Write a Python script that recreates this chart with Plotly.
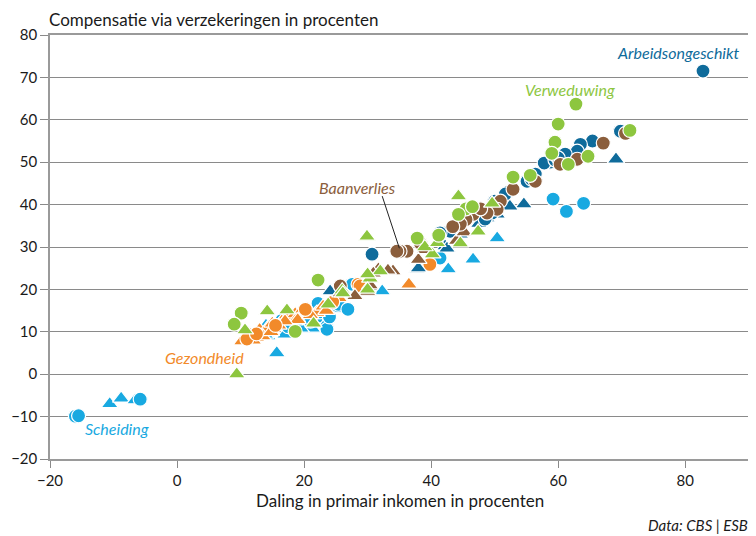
import plotly.graph_objects as go

# ---------------- data ----------------
arb_circ_x = [82.8, 69.8, 65.4, 63.5, 63.0, 61.1, 58.7, 57.8, 56.4, 55.1, 52.2, 51.7, 50.0, 49.6, 48.5, 43.0, 41.4, 30.7, 55.8, 59.5, 60.0]
arb_circ_y = [71.5, 57.3, 55.0, 54.2, 52.6, 51.9, 50.0, 49.8, 47.2, 45.5, 43.0, 42.5, 40.8, 38.0, 36.6, 33.7, 33.3, 28.3, 46.0, 50.5, 51.0]
arb_tri_x = [69.1, 54.6, 52.4, 50.4, 48.8, 44.6, 42.2, 37.8, 44.1, 42.5, 24.1, 38.0, 47.5]
arb_tri_y = [50.7, 40.1, 39.6, 37.7, 36.8, 33.0, 30.2, 24.8, 34.4, 29.7, 19.6, 25.0, 35.5]

ver_circ_x = [62.8, 60.0, 59.5, 59.0, 61.6, 64.7, 71.3, 55.6, 52.9, 45.5, 44.3, 41.2, 37.8, 22.2, 10.1, 9.0, 18.6, 46.5]
ver_circ_y = [63.7, 59.0, 54.7, 52.1, 49.5, 51.4, 57.5, 46.9, 46.5, 39.0, 37.7, 32.8, 32.1, 22.2, 14.4, 11.8, 10.1, 39.5]
ver_tri_x = [44.3, 49.6, 47.4, 44.6, 40.2, 39.0, 29.9, 32.0, 30.4, 30.0, 14.2, 17.3, 10.7, 23.8, 26.0, 30.0, 9.4, 41.0, 26.1, 21.5]
ver_tri_y = [42.0, 40.3, 33.7, 30.9, 28.3, 30.0, 32.5, 24.3, 22.6, 20.0, 14.9, 15.1, 10.4, 16.5, 19.8, 23.6, 0.0, 31.0, 19.1, 12.0]

baa_circ_x = [67.1, 70.6, 63.0, 60.3, 56.4, 52.9, 50.9, 50.4, 48.8, 46.6, 45.5, 44.6, 38.3, 36.2, 35.1, 34.6, 25.7, 47.8, 43.4]
baa_circ_y = [54.5, 56.8, 50.7, 49.5, 45.5, 43.6, 40.8, 38.9, 38.0, 37.7, 36.5, 35.4, 30.9, 29.0, 29.0, 29.0, 20.8, 39.0, 34.8]
baa_tri_x = [34.0, 31.7, 33.2, 30.9, 30.4, 30.0, 25.7, 39.0, 38.0, 44.0, 45.2, 28.0]
baa_tri_y = [24.3, 24.8, 24.5, 23.8, 21.0, 19.5, 19.1, 29.3, 27.0, 31.5, 33.5, 18.5]

gez_circ_x = [39.8, 28.5, 28.8, 11.0, 20.2, 15.5, 24.5, 12.5]
gez_circ_y = [25.9, 21.2, 20.8, 8.3, 15.3, 11.5, 17.0, 9.5]
gez_tri_x = [10.2, 11.5, 12.5, 13.0, 14.2, 15.0, 16.5, 17.5, 18.6, 18.9, 19.8, 20.5, 22.0, 23.0, 26.5, 36.5, 12.0, 19.0, 25.5, 13.5, 14.8, 16.0, 17.0, 21.0, 23.5]
gez_tri_y = [7.8, 9.4, 8.6, 10.5, 10.8, 12.0, 12.5, 13.5, 14.2, 13.2, 15.3, 15.5, 14.5, 16.0, 19.0, 21.2, 8.0, 12.8, 18.0, 9.0, 10.0, 11.5, 12.5, 14.0, 15.0]

sch_circ_x = [-16.0, -15.5, -5.8, 59.2, 61.3, 64.0, 41.4, 22.2, 22.5, 25.4, 26.9, 23.6, 27.6, 16.5, 21.0, 24.0, 17.5]
sch_circ_y = [-9.9, -9.8, -5.9, 41.3, 38.4, 40.3, 27.4, 16.7, 14.7, 16.5, 15.3, 10.6, 21.2, 12.7, 12.5, 13.5, 11.2]
sch_tri_x = [-10.6, -8.8, -6.6, 50.4, 46.6, 42.7, 32.3, 14.3, 15.7, 17.0, 21.3, 19.5, 14.0, 22.0, 23.5, 13.9, 18.5, 25.0]
sch_tri_y = [-7.0, -5.7, -6.1, 32.1, 27.1, 24.8, 19.6, 9.0, 5.0, 9.4, 10.8, 10.8, 11.5, 13.0, 12.0, 9.4, 12.5, 15.5]

x_ticks = [-20, 0, 20, 40, 60, 80]
y_ticks = [-20, -10, 0, 10, 20, 30, 40, 50, 60, 70, 80]

C_ARB = "#0f6b9b"
C_SCH = "#18a9e1"
C_GEZ = "#f28a2a"
C_BAA = "#8b5e3c"
C_VER = "#8dc63f"

FONT = "Lato"

fig = go.Figure()

def add(xs, ys, color, symbol, name):
    fig.add_trace(go.Scatter(
        x=xs, y=ys, mode="markers", name=name, showlegend=False,
        marker=dict(color=color, symbol=symbol, size=15 if symbol == "triangle-up" else 14,
                    line=dict(color="white", width=1.2)),
        hoverinfo="skip"))

add(sch_tri_x, sch_tri_y, C_SCH, "triangle-up", "Scheiding")
add(sch_circ_x, sch_circ_y, C_SCH, "circle", "Scheiding")
add(gez_tri_x, gez_tri_y, C_GEZ, "triangle-up", "Gezondheid")
add(gez_circ_x, gez_circ_y, C_GEZ, "circle", "Gezondheid")
add(arb_tri_x, arb_tri_y, C_ARB, "triangle-up", "Arbeidsongeschikt")
add(arb_circ_x, arb_circ_y, C_ARB, "circle", "Arbeidsongeschikt")
add(baa_tri_x, baa_tri_y, C_BAA, "triangle-up", "Baanverlies")
add(baa_circ_x, baa_circ_y, C_BAA, "circle", "Baanverlies")
add(ver_tri_x, ver_tri_y, C_VER, "triangle-up", "Verweduwing")
add(ver_circ_x, ver_circ_y, C_VER, "circle", "Verweduwing")

fig.add_shape(type="line", x0=32.3, y0=42.0, x1=35.0, y1=29.7,
              line=dict(color="#222", width=1))

labels = [
    ("Arbeidsongeschikt", 89.0, 75.9, C_ARB, "right"),
    ("Verweduwing", 54.5, 67.2, C_VER, "left"),
    ("Baanverlies", 22.0, 44.1, C_BAA, "left"),
    ("Gezondheid", -2.2, 4.0, C_GEZ, "left"),
    ("Scheiding", -14.8, -12.7, C_SCH, "left"),
]
for txt, lx, ly, col, anc in labels:
    fig.add_annotation(x=lx, y=ly, text="<i>%s</i>" % txt, showarrow=False,
                       xanchor=anc, yanchor="middle",
                       font=dict(family=FONT, size=16, color=col))

fig.add_annotation(xref="paper", yref="paper", x=0, y=1, xshift=-3, yshift=3,
                   text="Compensatie via verzekeringen in procenten", showarrow=False,
                   xanchor="left", yanchor="bottom",
                   font=dict(family=FONT, size=17, color="#1a1a1a"))
fig.add_annotation(xref="paper", yref="paper", x=0.5, y=0, yshift=-29,
                   text="Daling in primair inkomen in procenten", showarrow=False,
                   xanchor="center", yanchor="top",
                   font=dict(family=FONT, size=17, color="#1a1a1a"))
fig.add_annotation(xref="paper", yref="paper", x=0.851, y=0, yshift=-55,
                   text="<i>Data: CBS | ESB</i>", showarrow=False,
                   xanchor="left", yanchor="top",
                   font=dict(family=FONT, size=15, color="#1a1a1a"))

fig.update_layout(
    width=756, height=536,
    margin=dict(l=42, r=14, t=27, b=85, autoexpand=False),
    plot_bgcolor="white", paper_bgcolor="white",
    font=dict(family=FONT, size=15, color="#1a1a1a"),
    xaxis=dict(range=[-20, 90.2], tickvals=x_ticks, showgrid=False, zeroline=False,
               automargin=False,
               showline=True, mirror=True, linecolor="#9a9a9a", linewidth=1.5,
               ticks="outside", ticklen=7, tickcolor="#8a8a8a", tickwidth=1.2,
               tickfont=dict(family=FONT, size=15, color="#1a1a1a")),
    yaxis=dict(range=[-20, 80], tickvals=y_ticks, showgrid=True, gridcolor="#8a8a8a",
               gridwidth=1, zeroline=False, automargin=False,
               showline=True, mirror=True, linecolor="#9a9a9a", linewidth=1.5,
               ticks="outside", ticklen=8, tickcolor="#8a8a8a", tickwidth=1.2,
               tickfont=dict(family=FONT, size=15, color="#1a1a1a")),
)

fig.write_html("out.html")
